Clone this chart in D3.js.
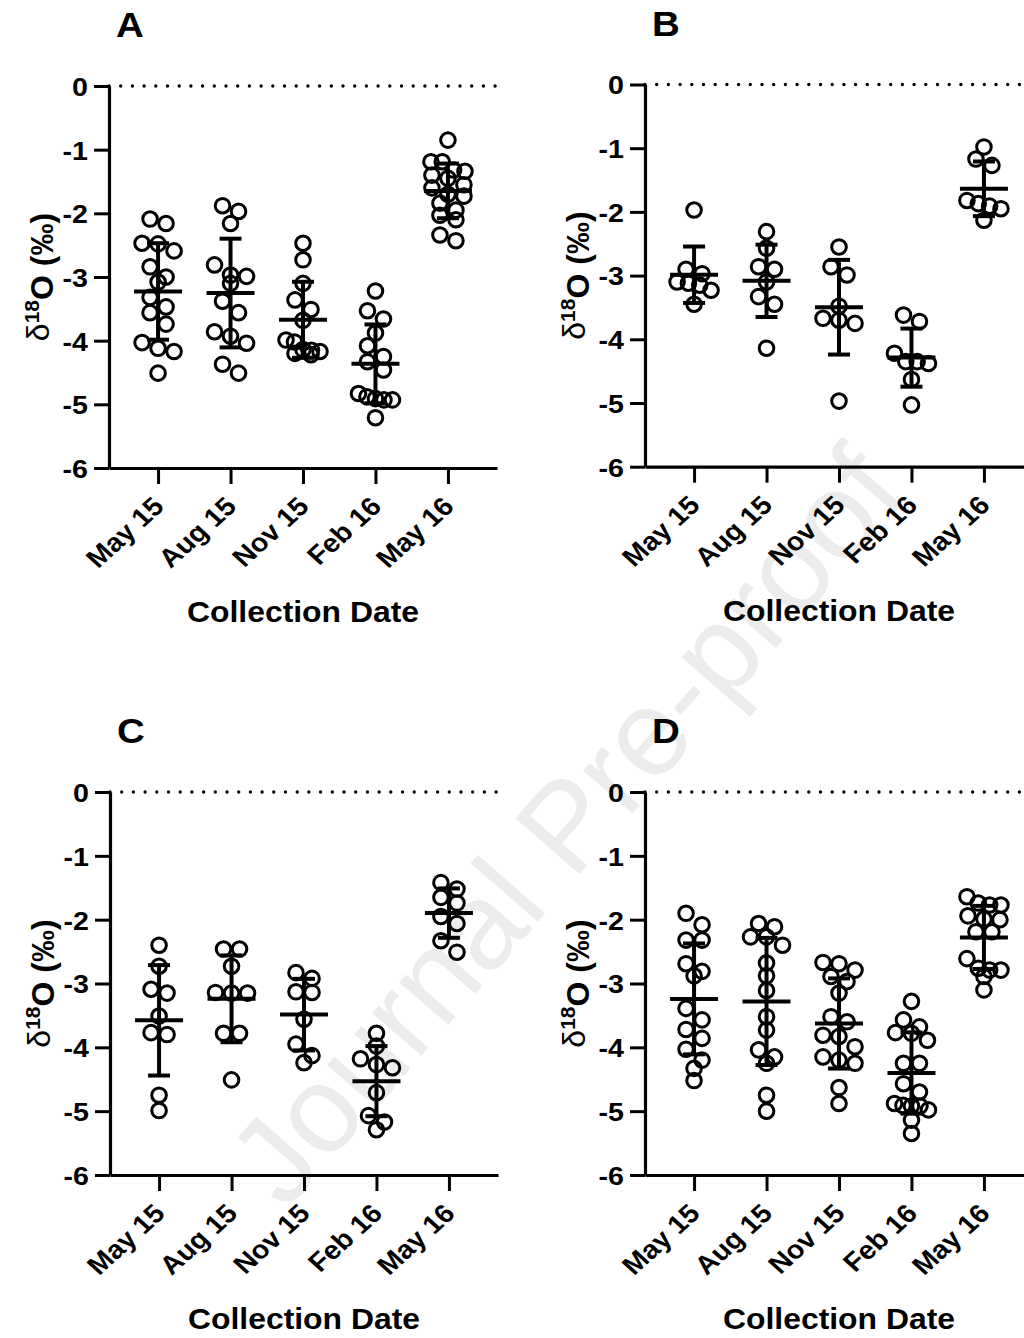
<!DOCTYPE html>
<html>
<head>
<meta charset="utf-8">
<script src="https://cdn.jsdelivr.net/npm/d3@7"></script>
<style>
    body { margin: 0; background: #fff; }
    svg text { font-family: "Liberation Sans", Arial, Helvetica, sans-serif; font-weight: bold; fill: #000; }
</style>
</head>
<body>
<svg id="chart" width="1024" height="1338"></svg>
<script>
    const categories = ["May 15", "Aug 15", "Nov 15", "Feb 16", "May 16"];
    const yTicks = [0, -1, -2, -3, -4, -5, -6];
    const panelLetters = ["A", "B", "C", "D"];

    // panel A
    const a_may15 = [-2.09, -2.16, -2.47, -2.48, -2.59, -2.84, -3.00, -3.08, -3.32, -3.47, -3.56, -3.74, -4.03, -4.12, -4.17, -4.51];
    const a_aug15 = [-1.88, -1.97, -2.16, -2.81, -2.99, -2.97, -3.10, -3.38, -3.56, -3.86, -3.93, -4.04, -4.37, -4.51];
    const a_nov15 = [-2.47, -2.73, -3.10, -3.36, -3.51, -3.68, -4.02, -3.99, -4.17, -4.15, -4.14, -4.20, -4.22];
    const a_feb16 = [-3.22, -3.53, -3.66, -3.88, -4.08, -4.25, -4.33, -4.46, -4.83, -4.88, -4.93, -4.91, -4.93, -5.21];
    const a_may16 = [-0.85, -1.19, -1.19, -1.34, -1.32, -1.45, -1.40, -1.55, -1.60, -1.70, -1.73, -1.84, -1.95, -2.03, -2.10, -2.34, -2.43];

    // panel B
    const b_may15 = [-1.97, -2.90, -2.97, -3.10, -3.12, -3.15, -3.23, -3.45];
    const b_aug15 = [-2.31, -2.57, -2.86, -2.90, -3.10, -3.33, -3.45, -4.14];
    const b_nov15 = [-2.55, -2.86, -2.99, -3.48, -3.67, -3.70, -3.75, -4.97];
    const b_feb16 = [-3.62, -3.72, -4.22, -4.35, -4.35, -4.38, -4.63, -5.03];
    const b_may16 = [-0.98, -1.17, -1.27, -1.82, -1.87, -1.91, -1.95, -2.13];

    // panel C
    const c_may15 = [-2.40, -2.73, -3.09, -3.15, -3.51, -3.77, -3.80, -4.75, -4.99];
    const c_aug15 = [-2.46, -2.46, -2.73, -3.14, -3.15, -3.15, -3.78, -3.78, -4.51];
    const c_nov15 = [-2.83, -2.92, -3.13, -3.14, -3.56, -3.95, -4.13, -4.24];
    const c_feb16 = [-3.78, -3.98, -4.18, -4.27, -4.32, -4.71, -5.07, -5.17, -5.29];
    const c_may16 = [-1.42, -1.52, -1.65, -1.74, -1.95, -2.06, -2.33, -2.51];

    // panel D
    const d_may15 = [-1.90, -2.08, -2.32, -2.32, -2.69, -2.81, -2.88, -3.39, -3.57, -3.72, -3.86, -4.03, -4.20, -4.33, -4.52];
    const d_aug15 = [-2.06, -2.11, -2.27, -2.27, -2.40, -2.68, -2.88, -3.11, -3.52, -3.73, -4.04, -4.15, -4.25, -4.75, -5.00];
    const d_nov15 = [-2.67, -2.69, -2.79, -2.89, -2.97, -3.15, -3.52, -3.60, -3.81, -3.83, -3.99, -4.15, -4.20, -4.25, -4.63, -4.88];
    const d_feb16 = [-3.28, -3.57, -3.68, -3.77, -3.78, -3.89, -4.25, -4.25, -4.57, -4.70, -4.88, -4.91, -4.92, -4.92, -4.98, -5.14, -5.35];
    const d_may16 = [-1.64, -1.74, -1.77, -1.77, -1.94, -1.99, -2.00, -2.19, -2.19, -2.61, -2.76, -2.79, -2.79, -2.89, -3.10];

    const panelData = [
        [a_may15, a_aug15, a_nov15, a_feb16, a_may16],
        [b_may15, b_aug15, b_nov15, b_feb16, b_may16],
        [c_may15, c_aug15, c_nov15, c_feb16, c_may16],
        [d_may15, d_aug15, d_nov15, d_feb16, d_may16],
    ];

    // where each panel's axes sit on the page
    const layout = [
        { left: 109, top: 86, bottom: 468 },
        { left: 645, top: 84.5, bottom: 466.7 },
        { left: 110, top: 792, bottom: 1175 },
        { left: 645, top: 792, bottom: 1175 },
    ];

    const SX = 1.1; // text in the source is a little wider than Arial
    const svg = d3.select("#chart");

    // watermark behind everything
    svg.append("text")
        .attr("transform", "translate(565,825) rotate(-49)")
        .attr("text-anchor", "middle")
        .attr("dy", "0.35em")
        .style("font-size", "123px")
        .style("font-weight", "normal")
        .style("fill", "#ececec")
        .text("Journal Pre-proof");

    // spread points sideways like a column scatter
    const swarm = function (vals, y) {
        const pts = vals.map(v => ({ v: v, py: y(v) })).sort((a, b) => a.py - b.py);
        const rows = [];
        pts.forEach(p => {
            const row = rows[rows.length - 1];
            if (row && p.py - row[0].py < 12) row.push(p);
            else rows.push([p]);
        });
        rows.forEach(row => {
            const gap = row.length > 3 ? 34 / (row.length - 1) : 16;
            row.forEach((p, i) => { p.dx = (i - (row.length - 1) / 2) * gap; });
        });
        return pts;
    };

    panelData.forEach(function (groups, i) {
        const L = layout[i];
        const right = L.left + 388;
        const x = d3.scalePoint().domain(categories).range([L.left, right]).padding(0.677);
        const y = d3.scaleLinear().domain([-6, 0]).range([L.bottom, L.top]);
        const g = svg.append("g");

        // dotted zero line
        g.append("line")
            .attr("x1", L.left).attr("x2", right)
            .attr("y1", y(0)).attr("y2", y(0))
            .attr("stroke", "#000")
            .attr("stroke-width", 3.4)
            .attr("stroke-linecap", "round")
            .attr("stroke-dasharray", "0 11.7");

        // y axis
        const ya = g.append("g")
            .attr("transform", "translate(" + L.left + ",0)")
            .call(d3.axisLeft(y).tickValues(yTicks).tickSize(15).tickSizeOuter(0).tickFormat(d => String(d)));
        ya.select(".domain").attr("stroke-width", 3.2);
        ya.selectAll(".tick line").attr("stroke-width", 3);
        ya.selectAll(".tick text")
            .attr("x", 0).attr("dy", "0.36em")
            .attr("transform", "translate(-21,0) scale(" + SX + ",1)")
            .style("font-size", "26px");

        // x axis
        const xa = g.append("g")
            .attr("transform", "translate(0," + L.bottom + ")")
            .call(d3.axisBottom(x).tickSize(16).tickSizeOuter(0));
        xa.select(".domain").attr("stroke-width", 3.2);
        xa.selectAll(".tick line").attr("stroke-width", 3);
        xa.selectAll(".tick text")
            .attr("x", 0).attr("y", 0).attr("dy", 0)
            .attr("text-anchor", "end")
            .attr("transform", "translate(7,40) scale(" + SX + ",1) rotate(-45)")
            .style("font-size", "26px");

        // points
        groups.forEach(function (vals, j) {
            const cx = x(categories[j]);
            g.append("g").selectAll("circle")
                .data(swarm(vals, y))
                .join("circle")
                .attr("cx", d => cx + d.dx)
                .attr("cy", d => d.py)
                .attr("r", 7.3)
                .attr("fill", "none")
                .attr("stroke", "#000")
                .attr("stroke-width", 3);

            // mean and SD
            const m = d3.mean(vals);
            const sd = d3.deviation(vals);
            const eb = g.append("g").attr("stroke", "#000").attr("stroke-width", 4);
            eb.append("line").attr("x1", cx).attr("x2", cx).attr("y1", y(m + sd)).attr("y2", y(m - sd));
            eb.append("line").attr("x1", cx - 11).attr("x2", cx + 11).attr("y1", y(m + sd)).attr("y2", y(m + sd));
            eb.append("line").attr("x1", cx - 11).attr("x2", cx + 11).attr("y1", y(m - sd)).attr("y2", y(m - sd));
            eb.append("line").attr("x1", cx - 24).attr("x2", cx + 24).attr("y1", y(m)).attr("y2", y(m));
        });

        // axis titles
        g.append("text")
            .attr("transform", "translate(" + (L.left + 194) + "," + (L.bottom + 154) + ") scale(" + SX + ",1)")
            .attr("text-anchor", "middle")
            .style("font-size", "29px")
            .text("Collection Date");

        const yt = g.append("text")
            .attr("transform", "translate(" + (L.left - 72) + "," + ((L.top + L.bottom) / 2) + ") rotate(-90)")
            .attr("text-anchor", "middle")
            .attr("dy", "0.36em")
            .style("font-size", "32px");
        yt.append("tspan").style("font-weight", "normal").text("δ");
        yt.append("tspan").attr("dy", "-0.45em").style("font-size", "21px").text("18");
        yt.append("tspan").attr("dy", "0.45em").text("O (‰)");

        // panel letter
        g.append("text")
            .attr("transform", "translate(" + (L.left + 21) + "," + (L.top - 49) + ") scale(" + SX + ",1)")
            .attr("text-anchor", "middle")
            .style("font-size", "35px")
            .text(panelLetters[i]);
    });
</script>
</body>
</html>
